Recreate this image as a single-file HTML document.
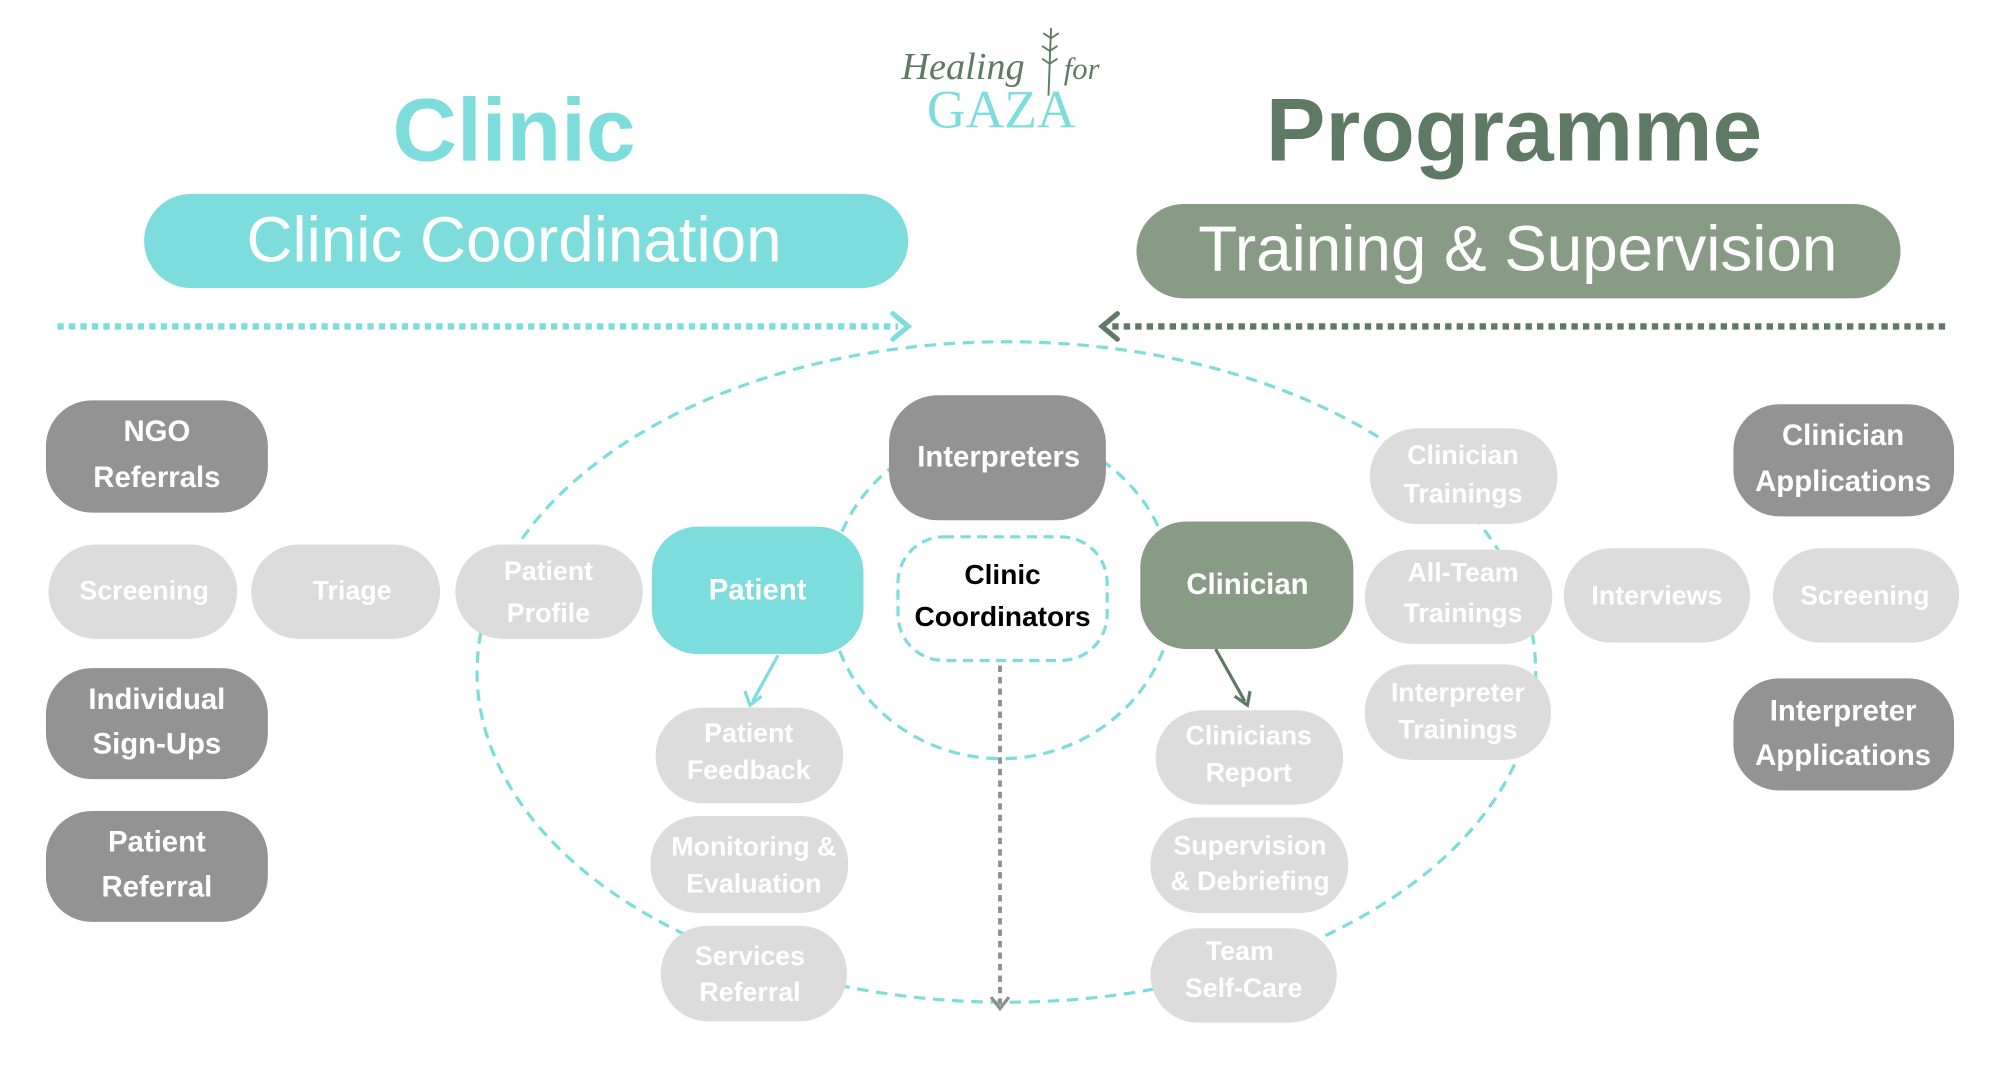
<!DOCTYPE html>
<html><head><meta charset="utf-8"><style>
html,body{margin:0;padding:0;background:#fff;width:2000px;height:1080px;overflow:hidden}
svg{display:block}
text{font-family:"Liberation Sans",sans-serif}
</style></head><body>
<svg width="2000" height="1080" viewBox="0 0 1568 847" preserveAspectRatio="none" xmlns="http://www.w3.org/2000/svg">
<!-- logo -->
<text x="755" y="62" style="font-family:'Liberation Serif',serif;font-style:italic" font-size="30" fill="#5f7a64" text-anchor="middle">Healing</text>
<text x="848" y="62" style="font-family:'Liberation Serif',serif;font-style:italic" font-size="24" fill="#5f7a64" text-anchor="middle">for</text>
<text x="785" y="100" style="font-family:'Liberation Serif',serif" font-size="42" fill="#7ddcdc" text-anchor="middle">GAZA</text>
<path d="M824 22 L822 75 M824 30 l-6 -4 M824 30 l6 -4 M823 40 l-6 -4 M823 40 l6 -4 M823 50 l-6 -4 M823 50 l6 -4" stroke="#5f7a64" stroke-width="1.5" fill="none"/>
<!-- titles -->
<text x="403" y="126" font-size="70" font-weight="bold" fill="#7ddcdc" text-anchor="middle">Clinic</text>
<text x="1187" y="126" font-size="70" font-weight="bold" fill="#5f7a64" text-anchor="middle">Programme</text>
<rect x="113" y="152" width="599" height="74" rx="37" fill="#7ddcdc"/>
<text x="403" y="205" font-size="50" fill="#fff" text-anchor="middle">Clinic Coordination</text>
<rect x="891" y="160" width="599" height="74" rx="37" fill="#889b84"/>
<text x="1190" y="212" font-size="50" fill="#fff" text-anchor="middle">Training &amp; Supervision</text>
<!-- dotted arrows -->
<line x1="45" y1="256" x2="704" y2="256" stroke="#7ddcdc" stroke-width="5" stroke-dasharray="5 4"/>
<path d="M700 246 L712 256 L700 266" stroke="#7ddcdc" stroke-width="4" fill="none" stroke-linecap="round"/>
<line x1="872" y1="256" x2="1528" y2="256" stroke="#5f7a64" stroke-width="5" stroke-dasharray="5 4"/>
<path d="M876 246 L864 256 L876 266" stroke="#5f7a64" stroke-width="4" fill="none" stroke-linecap="round"/>
<!-- ellipses -->
<ellipse cx="789" cy="527" rx="415" ry="259" fill="none" stroke="#7ddcdc" stroke-width="2.5" stroke-dasharray="9 6"/>
<ellipse cx="785" cy="466" rx="135" ry="129" fill="none" stroke="#7ddcdc" stroke-width="2.5" stroke-dasharray="9 6"/>
<!-- vertical gray dotted -->
<line x1="784" y1="522" x2="784" y2="788" stroke="#8e8e8e" stroke-width="3" stroke-dasharray="5 4"/>
<path d="M777 782 L784 791 L791 782" stroke="#8e8e8e" stroke-width="2.5" fill="none"/>
<g font-size="22" text-anchor="middle">
<g fill="#939393">
<rect x="36" y="314" width="174" height="88" rx="36"/>
<rect x="36" y="524" width="174" height="87" rx="36"/>
<rect x="36" y="636" width="174" height="87" rx="36"/>
<rect x="697" y="310" width="170" height="98" rx="38"/>
<rect x="1359" y="317" width="173" height="88" rx="36"/>
<rect x="1359" y="532" width="173" height="88" rx="36"/>
</g>
<g fill="#dcdcdc">
<rect x="38" y="427" width="148" height="74" rx="37"/>
<rect x="197" y="427" width="148" height="74" rx="37"/>
<rect x="357" y="427" width="147" height="74" rx="37"/>
<rect x="514" y="555" width="147" height="75" rx="37"/>
<rect x="510" y="640" width="155" height="76" rx="37"/>
<rect x="518" y="726" width="146" height="75" rx="37"/>
<rect x="906" y="557" width="147" height="74" rx="37"/>
<rect x="902" y="641" width="155" height="75" rx="37"/>
<rect x="902" y="728" width="146" height="74" rx="37"/>
<rect x="1074" y="336" width="147" height="75" rx="37"/>
<rect x="1070" y="431" width="147" height="74" rx="37"/>
<rect x="1070" y="521" width="146" height="75" rx="37"/>
<rect x="1226" y="430" width="146" height="74" rx="37"/>
<rect x="1390" y="430" width="146" height="74" rx="37"/>
</g>
<rect x="511" y="413" width="166" height="100" rx="36" fill="#7ddcdc"/>
<rect x="894" y="409" width="167" height="100" rx="36" fill="#889b84"/>
<rect x="704" y="421" width="164" height="97" rx="36" fill="#fff" stroke="#7ddcdc" stroke-width="2.5" stroke-dasharray="8 5"/>
<line x1="610" y1="514" x2="590" y2="550" stroke="#7ddcdc" stroke-width="2.5"/>
<path d="M584 542 L588 553 L597 546" stroke="#7ddcdc" stroke-width="2.5" fill="none"/>
<line x1="953" y1="509" x2="976" y2="550" stroke="#5f7a64" stroke-width="2.5"/>
<path d="M968 546 L978 553 L980 542" stroke="#5f7a64" stroke-width="2.5" fill="none"/>
<g fill="#fff" font-weight="bold" font-size="23">
<text x="123" y="346">NGO</text><text x="123" y="382">Referrals</text>
<text x="123" y="556">Individual</text><text x="123" y="591">Sign-Ups</text>
<text x="123" y="668">Patient</text><text x="123" y="703">Referral</text>
<text x="783" y="366">Interpreters</text>
<text x="1445" y="349">Clinician</text><text x="1445" y="385">Applications</text>
<text x="1445" y="565">Interpreter</text><text x="1445" y="600">Applications</text>
<text x="594" y="470">Patient</text>
<text x="978" y="466">Clinician</text>
</g>
<g fill="#000" font-weight="bold" font-size="22">
<text x="786" y="458">Clinic</text><text x="786" y="491">Coordinators</text>
</g>
<g fill="#fff" font-weight="bold" font-size="21">
<text x="113" y="470">Screening</text>
<text x="276" y="470">Triage</text>
<text x="430" y="455">Patient</text><text x="430" y="488">Profile</text>
<text x="587" y="582">Patient</text><text x="587" y="611">Feedback</text>
<text x="591" y="671">Monitoring &amp;</text><text x="591" y="700">Evaluation</text>
<text x="588" y="757">Services</text><text x="588" y="785">Referral</text>
<text x="979" y="584">Clinicians</text><text x="979" y="613">Report</text>
<text x="980" y="670">Supervision</text><text x="980" y="698">&amp; Debriefing</text>
<text x="972" y="753">Team</text><text x="975" y="782">Self-Care</text>
<text x="1147" y="364">Clinician</text><text x="1147" y="394">Trainings</text>
<text x="1147" y="456">All-Team</text><text x="1147" y="488">Trainings</text>
<text x="1143" y="550">Interpreter</text><text x="1143" y="579">Trainings</text>
<text x="1299" y="474">Interviews</text>
<text x="1462" y="474">Screening</text>
</g>
</g>
</svg>
</body></html>
